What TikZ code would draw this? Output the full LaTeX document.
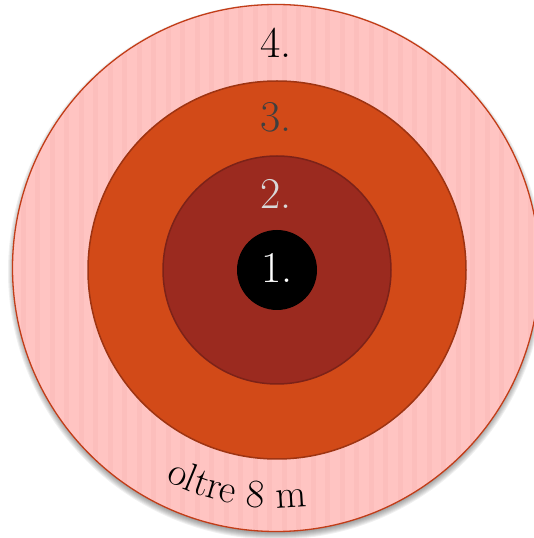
\documentclass[tikz,border=0pt]{standalone}
\usetikzlibrary{decorations.text}
\definecolor{pinkfill}{HTML}{FFC4C2}
\definecolor{pinkstripe}{HTML}{F9B4B3}
\definecolor{outerline}{HTML}{C23D18}
\definecolor{orangefill}{HTML}{D24A18}
\definecolor{orangeline}{HTML}{9E3412}
\definecolor{redfill}{HTML}{9B2A1F}
\definecolor{redline}{HTML}{7C2218}
\definecolor{darkgraytext}{HTML}{3F3F3F}
\definecolor{lightgraytext}{HTML}{D8D8D8}
\tikzset{
  ring/.style={circle, inner sep=0pt, outer sep=0pt},
  digit/.style={inner sep=0pt, font=\fontsize{44}{44}\selectfont}
}
\begin{document}
\begin{tikzpicture}[x=1pt,y=1pt]
\useasboundingbox (0,0) rectangle (533,538);
\coordinate (c) at (277,268);
% soft shadow
\foreach \r in {261,262,...,268}
  \fill[black, opacity=0.06] (276,266.5) circle (\r);
\node[ring, fill=pinkfill, minimum size=527pt] (ring4) at (276,270) {};
\begin{scope}
  \clip (276,270) circle (262.5);
  \foreach \x in {6,20.5,...,533}
    \fill[pinkstripe, opacity=0.35] (\x,0) rectangle ++(5,538);
\end{scope}
\node[ring, draw=outerline, line width=1.3pt, minimum size=527pt] at (276,270) {};
\node[ring, fill=orangefill, draw=orangeline, line width=1.5pt, minimum size=378pt] (ring3) at (c) {};
\node[ring, fill=redfill, draw=redline, line width=1.5pt, minimum size=228pt] (ring2) at (c) {};
\node[ring, fill=black, minimum size=80pt] (ring1) at (c) {};
\node[digit, text=black] (l4) at (276,495) {4.};
\node[digit, text=darkgraytext] (l3) at (276,421) {3.};
\node[digit, text=lightgraytext] (l2) at (276,344) {2.};
\node[digit, text=white] (l1) at (277,270) {1.};
\path[decorate, decoration={text along path, text align=left,
  text={|\fontsize{40}{40}\selectfont|oltre 8 m}}]
  ([shift={(242:238)}]c) arc[start angle=242, end angle=300, radius=238];
\end{tikzpicture}
\end{document}
